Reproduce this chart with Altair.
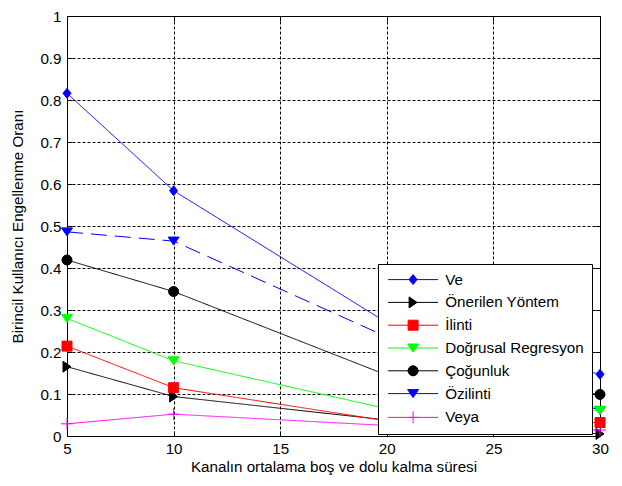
import altair as alt
import pandas as pd

# ---------------- data ----------------
x_values = [5, 10, 20, 30]
series_names = ["Ve", "Önerilen Yöntem", "İlinti", "Doğrusal Regresyon",
                "Çoğunluk", "Özilinti", "Veya"]
ve = [0.816, 0.584, 0.270, 0.147]
onerilen = [0.165, 0.094, 0.038, 0.005]
ilinti = [0.214, 0.115, 0.036, 0.032]
dogrusal = [0.280, 0.179, 0.065, 0.061]
cogunluk = [0.419, 0.344, 0.145, 0.099]
ozilinti = [0.486, 0.464, 0.236, 0.061]
veya = [0.029, 0.052, 0.025, 0.014]

x_ticks = [5, 10, 15, 20, 25, 30]
y_ticks = [0, 0.1, 0.2, 0.3, 0.4, 0.5, 0.6, 0.7, 0.8, 0.9, 1]
x_title = "Kanalın ortalama boş ve dolu kalma süresi"
y_title = "Birincil Kullanıcı Engellenme Oranı"

# drawing order of the markers (later = on top)
draw_order = ["Özilinti", "Önerilen Yöntem", "İlinti", "Doğrusal Regresyon",
              "Çoğunluk", "Veya", "Ve"]

# ---------------- styles ----------------
colors = ["#0000FF", "#000000", "#FF0000", "#00FF00", "#000000", "#0000FF", "#FF00FF"]
dashes = [[1, 0], [1, 0], [1, 0], [1, 0], [1, 0], [16, 8], [1, 0]]
FONT = "Liberation Sans"
FS = 15.2


def poly(pts, dx=0.0):
    return "M" + "L".join(f"{x + dx:.3f},{y:.3f}" for x, y in pts) + "Z"


def circ(r, dx=0.0):
    return (f"M{dx + r:.3f},0A{r},{r},0,1,1,{dx - r:.3f},0"
            f"A{r},{r},0,1,1,{dx + r:.3f},0Z")


def plus(h, dx=0.0):
    return f"M{dx - h:.3f},0H{dx + h:.3f}M{dx:.3f},{-h:.3f}V{h:.3f}"


def markers(dx=0.0):
    return [
        poly([(0, -1.0), (0.8, 0), (0, 1.0), (-0.8, 0)], dx),        # diamond
        poly([(-0.8, -1.1), (0.8, 0), (-0.8, 1.1)], dx),             # triangle right
        poly([(-1, -1), (1, -1), (1, 1), (-1, 1)], dx),              # square
        poly([(-1.1, -0.8), (1.1, -0.8), (0, 0.8)], dx),             # triangle down
        circ(1.0, dx),                                               # circle
        poly([(-1.1, -0.8), (1.1, -0.8), (0, 0.8)], dx),             # triangle down
        plus(1.2, dx),                                               # plus
    ]


plot_shapes = markers()
MX = 3.9
legend_shapes = ["M-1.1,0H8.9" + m for m in markers(MX)]

# ---------------- table ----------------
all_vals = [ve, onerilen, ilinti, dogrusal, cogunluk, ozilinti, veya]
rows = []
for name, vals in zip(series_names, all_vals):
    z = draw_order.index(name)
    for xv, yv in zip(x_values, vals):
        rows.append({"series": name, "x": xv, "y": yv, "z": z})
df = pd.DataFrame(rows)
df_pts = df.sort_values(["z", "x"]).reset_index(drop=True)
df_leg = pd.DataFrame({"series": series_names})

xs = alt.Scale(domain=[5, 30], nice=False, zero=False)
ys = alt.Scale(domain=[0, 1], nice=False, zero=False)

axis_common = dict(
    grid=True, gridColor="black", gridDash=[3, 2], gridOpacity=1, gridWidth=1,
    domain=False, ticks=True, tickSize=5, tickColor="black", tickWidth=1,
    offset=-5, labelFont=FONT, labelFontSize=FS, labelColor="black",
    titleFont=FONT, titleFontSize=FS, titleFontWeight="normal", titleColor="black",
    labelOverlap=False,
)

x_axis = alt.Axis(values=x_ticks, labelPadding=5, labelFlush=False,
                  title=x_title, titlePadding=3, **axis_common)
y_axis = alt.Axis(values=y_ticks, labelPadding=6, format="~g",
                  title=y_title, titlePadding=14, **axis_common)

tick_only = dict(grid=False, domain=False, labels=False, ticks=True, tickSize=5,
                 tickColor="black", tickWidth=1, offset=-5, title=None)
x_top = alt.Axis(orient="top", values=x_ticks, **tick_only)
y_right = alt.Axis(orient="right", values=y_ticks, **tick_only)

lines = alt.Chart(df).mark_line(strokeWidth=1).encode(
    x=alt.X("x:Q", scale=xs, axis=x_axis),
    y=alt.Y("y:Q", scale=ys, axis=y_axis),
    color=alt.Color("series:N", scale=alt.Scale(domain=series_names, range=colors), legend=None),
    strokeDash=alt.StrokeDash("series:N", scale=alt.Scale(domain=series_names, range=dashes),
                              legend=None),
)

points = alt.Chart(df_pts).mark_point(filled=True, opacity=1, size=100, strokeWidth=1).encode(
    x=alt.X("x:Q", scale=xs, axis=x_top),
    y=alt.Y("y:Q", scale=ys, axis=y_right),
    fill=alt.Fill("series:N", scale=alt.Scale(domain=series_names, range=colors), legend=None),
    stroke=alt.Stroke("series:N", scale=alt.Scale(domain=series_names, range=colors), legend=None),
    shape=alt.Shape("series:N", scale=alt.Scale(domain=series_names, range=plot_shapes),
                    legend=None),
    order=alt.Order("z:Q"),
)

leg = alt.Legend(orient="none", legendX=311, legendY=248, title=None,
                 strokeColor="black", fillColor="white", padding=8,
                 labelFont=FONT, labelFontSize=FS, labelColor="black",
                 labelOffset=44, labelLimit=400, symbolSize=100, symbolStrokeWidth=1,
                 symbolOpacity=1, rowPadding=6.8)

legend_layer = alt.Chart(df_leg).mark_point(filled=True, opacity=0, size=100,
                                            strokeWidth=1).encode(
    fill=alt.Fill("series:N", scale=alt.Scale(domain=series_names, range=colors), legend=leg),
    stroke=alt.Stroke("series:N", scale=alt.Scale(domain=series_names, range=colors), legend=leg),
    shape=alt.Shape("series:N", scale=alt.Scale(domain=series_names, range=legend_shapes),
                    legend=leg),
)

chart = alt.layer(lines, points, legend_layer).resolve_scale(
    fill="independent", stroke="independent", shape="independent"
).resolve_axis(
    x="independent", y="independent"
).properties(
    width=533, height=420,
    padding={"left": 59, "top": 8, "right": 14, "bottom": 42},
    autosize=alt.AutoSizeParams(type="none"),
    background="white",
).configure_view(stroke="black", strokeWidth=1)

chart.save("out.html", embed_options={"renderer": "svg", "actions": False})
